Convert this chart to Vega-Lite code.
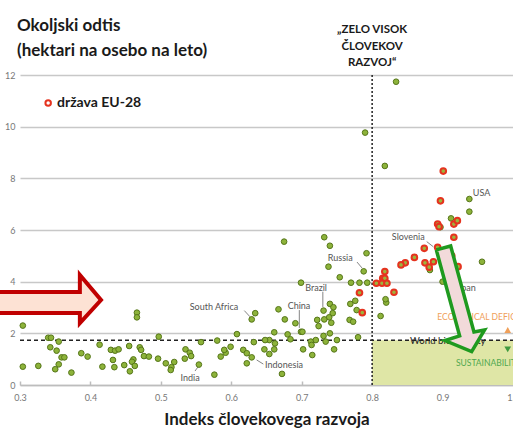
{
  "$schema": "https://vega.github.io/schema/vega-lite/v6.json",
  "width": 493,
  "height": 310,
  "autosize": {"type": "none"},
  "padding": {"left": 20, "top": 75, "right": 0, "bottom": 55},
  "background": "white",
  "config": {"font": "Lato", "view": {"stroke": null}},
  "title": {
    "text": ["Okoljski odtis", "(hektari na osebo na leto)"],
    "anchor": "start",
    "frame": "group",
    "dx": -3,
    "offset": -36,
    "fontSize": 17,
    "fontWeight": "bold",
    "font": "Lato",
    "color": "#1a1a1a",
    "lineHeight": 25
  },
  "datasets": {
    "zone": [{"x": 0.8, "x2": 1.0, "y": 0, "y2": 1.73}],
    "hline": [{"x": 0.3, "x2": 1.0, "y": 1.73}],
    "vline": [{"x": 0.8, "y": 0, "y2": 12}],
    "other": [
      {"x":0.304,"y":2.30},{"x":0.304,"y":0.71},{"x":0.326,"y":0.74},{"x":0.340,"y":1.83},{"x":0.344,"y":1.83},
      {"x":0.355,"y":1.68},{"x":0.343,"y":1.46},{"x":0.352,"y":1.33},{"x":0.359,"y":1.07},{"x":0.363,"y":1.07},
      {"x":0.355,"y":0.80},{"x":0.350,"y":0.61},{"x":0.373,"y":0.48},{"x":0.387,"y":1.23},{"x":0.396,"y":1.10},
      {"x":0.413,"y":1.56},{"x":0.417,"y":0.71},{"x":0.429,"y":1.36},{"x":0.435,"y":1.33},{"x":0.440,"y":1.38},
      {"x":0.432,"y":0.97},{"x":0.434,"y":0.69},{"x":0.448,"y":0.77},{"x":0.455,"y":1.51},{"x":0.461,"y":0.99},
      {"x":0.459,"y":0.90},{"x":0.456,"y":0.53},{"x":0.463,"y":0.74},{"x":0.466,"y":2.80},{"x":0.466,"y":2.62},
      {"x":0.470,"y":1.46},{"x":0.472,"y":1.36},{"x":0.476,"y":1.12},{"x":0.483,"y":1.10},{"x":0.497,"y":1.87},
      {"x":0.496,"y":1.02},{"x":0.507,"y":0.84},{"x":0.515,"y":0.69},{"x":0.519,"y":0.89},{"x":0.514,"y":0.58},
      {"x":0.535,"y":1.38},{"x":0.541,"y":1.25},{"x":0.543,"y":1.12},{"x":0.534,"y":1.02},{"x":0.554,"y":0.79},
      {"x":0.557,"y":1.66},{"x":0.576,"y":0.40},{"x":0.580,"y":1.72},{"x":0.585,"y":1.10},{"x":0.592,"y":1.25},
      {"x":0.590,"y":1.36},{"x":0.599,"y":1.48},{"x":0.608,"y":1.97},{"x":0.617,"y":1.36},{"x":0.622,"y":1.23},
      {"x":0.622,"y":0.84},{"x":0.629,"y":1.07},{"x":0.632,"y":1.66},{"x":0.629,"y":2.54},{"x":0.634,"y":2.78},
      {"x":0.654,"y":1.74},{"x":0.661,"y":2.04},{"x":0.667,"y":2.93},{"x":0.672,"y":0.43},{"x":0.648,"y":1.74},
      {"x":0.647,"y":1.38},{"x":0.654,"y":1.20},{"x":0.662,"y":1.61},{"x":0.661,"y":1.38},{"x":0.676,"y":2.54},
      {"x":0.680,"y":1.96},{"x":0.684,"y":1.77},{"x":0.691,"y":2.39},{"x":0.699,"y":2.06},{"x":0.701,"y":2.06},
      {"x":0.702,"y":1.38},{"x":0.715,"y":1.16},{"x":0.713,"y":1.68},{"x":0.720,"y":1.74},{"x":0.714,"y":1.55},
      {"x":0.722,"y":2.52},{"x":0.724,"y":2.28},{"x":0.731,"y":2.88},{"x":0.740,"y":3.14},{"x":0.745,"y":3.01},
      {"x":0.744,"y":2.78},{"x":0.739,"y":2.62},{"x":0.732,"y":2.54},{"x":0.742,"y":2.41},{"x":0.731,"y":1.90},
      {"x":0.740,"y":2.00},{"x":0.734,"y":1.68},{"x":0.750,"y":1.74},{"x":0.746,"y":1.38},{"x":0.769,"y":3.14},
      {"x":0.776,"y":3.26},{"x":0.768,"y":2.52},{"x":0.773,"y":2.45},{"x":0.780,"y":1.85},{"x":0.778,"y":2.90},
      {"x":0.699,"y":3.96},{"x":0.770,"y":3.96},{"x":0.782,"y":3.96},{"x":0.793,"y":3.96},{"x":0.675,"y":5.55},
      {"x":0.732,"y":5.72},{"x":0.740,"y":5.39},{"x":0.792,"y":5.10},{"x":0.738,"y":4.58},{"x":0.788,"y":4.40},
      {"x":0.754,"y":4.17},{"x":0.790,"y":9.77},{"x":0.818,"y":8.48},{"x":0.834,"y":11.74},{"x":0.820,"y":3.19},
      {"x":0.819,"y":3.32},{"x":0.812,"y":2.67},{"x":0.900,"y":4.00},{"x":0.938,"y":7.20},{"x":0.938,"y":6.71},
      {"x":0.912,"y":6.45},{"x":0.897,"y":6.11},{"x":0.956,"y":4.77},{"x":0.882,"y":4.45}
    ],
    "eu": [
      {"x":0.901,"y":8.28},{"x":0.897,"y":7.13},{"x":0.893,"y":6.23},{"x":0.895,"y":6.13},{"x":0.916,"y":6.23},
      {"x":0.921,"y":6.36},{"x":0.916,"y":5.72},{"x":0.874,"y":5.29},{"x":0.860,"y":4.94},{"x":0.847,"y":4.73},
      {"x":0.841,"y":4.65},{"x":0.875,"y":4.73},{"x":0.881,"y":4.56},{"x":0.887,"y":4.77},{"x":0.893,"y":5.33},
      {"x":0.922,"y":4.58},{"x":0.818,"y":4.39},{"x":0.815,"y":4.13},{"x":0.818,"y":4.13},{"x":0.806,"y":3.94},
      {"x":0.814,"y":3.94},{"x":0.821,"y":3.94},{"x":0.831,"y":3.59},{"x":0.782,"y":3.57},{"x":0.786,"y":2.80},
      {"x":0.913,"y":5.00}
    ],
    "labels": [
      {"x":0.737,"y":4.93,"t":"Russia"},{"x":0.705,"y":3.77,"t":"Brazil"},{"x":0.680,"y":3.07,"t":"China"},
      {"x":0.541,"y":3.01,"t":"South Africa"},{"x":0.528,"y":0.28,"t":"India"},{"x":0.648,"y":0.77,"t":"Indonesia"},
      {"x":0.828,"y":5.72,"t":"Slovenia"},{"x":0.943,"y":7.42,"t":"USA"},{"x":0.915,"y":3.74,"t":"Japan"}
    ],
    "leaders": [
      {"x":0.7785,"y":4.76,"x2":0.7856,"y2":4.53},{"x":0.730,"y":3.61,"x2":0.730,"y2":3.02},
      {"x":0.6966,"y":2.90,"x2":0.6966,"y2":2.21},{"x":0.6185,"y":2.88,"x2":0.6266,"y2":2.64},
      {"x":0.5485,"y":0.54,"x2":0.5527,"y2":0.70},{"x":0.636,"y":0.97,"x2":0.6455,"y2":0.81},
      {"x":0.8775,"y":5.55,"x2":0.8869,"y2":5.35}
    ],
    "redarrow": [
      {"x":0.262,"y":3.60,"o":1},{"x":0.385,"y":3.60,"o":2},{"x":0.385,"y":4.26,"o":3},{"x":0.415,"y":3.29,"o":4},
      {"x":0.385,"y":2.40,"o":5},{"x":0.385,"y":2.79,"o":6},{"x":0.262,"y":2.79,"o":7}
    ],
    "greenarrow": [
      {"x":0.8911,"y":5.23,"o":1},{"x":0.9115,"y":5.38,"o":2},{"x":0.9446,"y":2.05,"o":3},{"x":0.9596,"y":2.13,"o":4},
      {"x":0.9413,"y":1.29,"o":5},{"x":0.9034,"y":1.72,"o":6},{"x":0.9242,"y":1.90,"o":7},{"x":0.8911,"y":5.23,"o":8}
    ]
  },
  "encoding": {
    "x": {
      "field": "x", "type": "quantitative",
      "scale": {"domain": [0.3, 1.0], "nice": false, "zero": false},
      "axis": {
        "title": "Indeks človekovega razvoja",
        "values": [0.3, 0.4, 0.5, 0.6, 0.7, 0.8, 0.9, 1.0],
        "format": ".1f", "grid": false, "labelFlush": false,
        "domainColor": "#bdbdbd", "domainWidth": 1.5,
        "tickColor": "#bdbdbd", "tickWidth": 1.5, "tickSize": -4,
        "labelPadding": 12, "labelFontSize": 9, "labelColor": "#777",
        "titleFontSize": 17, "titleFontWeight": "bold", "titleColor": "#1a1a1a", "titlePadding": 9
      }
    },
    "y": {
      "field": "y", "type": "quantitative",
      "scale": {"domain": [0, 12], "nice": false},
      "axis": {
        "title": null, "values": [0, 2, 4, 6, 8, 10, 12],
        "domain": false, "ticks": false, "grid": true, "labelFlush": false,
        "gridColor": "#c8c8c8", "gridWidth": 1.5,
        "labelPadding": 5, "labelFontSize": 9, "labelColor": "#777"
      }
    }
  },
  "layer": [
    {
      "data": {"name": "zone"},
      "mark": {"type": "rect", "color": "#dfe6a6"},
      "encoding": {"x2": {"field": "x2"}, "y2": {"field": "y2"}}
    },
    {
      "data": {"name": "hline"},
      "mark": {"type": "rule", "color": "#222", "strokeWidth": 1.5, "strokeDash": [4, 3]},
      "encoding": {"x2": {"field": "x2"}}
    },
    {
      "data": {"name": "vline"},
      "mark": {"type": "rule", "color": "#222", "strokeWidth": 1.5, "strokeDash": [2, 2]},
      "encoding": {"y2": {"field": "y2"}}
    },
    {
      "data": {"name": "leaders"},
      "mark": {"type": "rule", "color": "#666", "strokeWidth": 0.8},
      "encoding": {"x2": {"field": "x2"}, "y2": {"field": "y2"}}
    },
    {
      "data": {"name": "other"},
      "mark": {"type": "circle", "size": 32, "fill": "#8db33a", "stroke": "#56761a", "strokeWidth": 1, "opacity": 1}
    },
    {
      "data": {"name": "eu"},
      "mark": {"type": "circle", "size": 32, "fill": "#9db43c", "stroke": "#e5331f", "strokeWidth": 2, "opacity": 1}
    },
    {
      "data": {"name": "labels"},
      "mark": {"type": "text", "align": "left", "baseline": "middle", "fontSize": 9, "color": "#555"},
      "encoding": {"text": {"field": "t"}}
    },
    {
      "data": {"values": [{"x": 0.8537, "y": 1.70, "t": "World biocapacity"}]},
      "mark": {"type": "text", "align": "left", "baseline": "middle", "fontSize": 9.5, "color": "#222"},
      "encoding": {"text": {"field": "t"}}
    },
    {
      "data": {"values": [{"x": 0.8925, "y": 2.62, "t": "ECOLOGICAL DEFICIT"}]},
      "mark": {"type": "text", "align": "left", "baseline": "middle", "fontSize": 8.5, "color": "#f0a05a"},
      "encoding": {"text": {"field": "t"}}
    },
    {
      "data": {"values": [{"x": 0.919, "y": 0.84, "t": "SUSTAINABILITY"}]},
      "mark": {"type": "text", "align": "left", "baseline": "middle", "fontSize": 8.5, "color": "#4fa84f"},
      "encoding": {"text": {"field": "t"}}
    },
    {
      "data": {"values": [{"x": 0.9925, "y": 2.13}]},
      "mark": {"type": "point", "shape": "triangle-up", "filled": true, "size": 45, "color": "#f0a05a", "opacity": 1}
    },
    {
      "data": {"values": [{"x": 0.9925, "y": 1.38}]},
      "mark": {"type": "point", "shape": "triangle-down", "filled": true, "size": 45, "color": "#3f9a3f", "opacity": 1}
    },
    {
      "data": {"name": "redarrow"},
      "mark": {"type": "line", "fill": "#fde2d4", "stroke": "#c00000", "strokeWidth": 4, "strokeJoin": "miter"},
      "encoding": {"order": {"field": "o", "type": "quantitative"}}
    },
    {
      "data": {"name": "greenarrow"},
      "mark": {"type": "line", "fill": "#f2dada", "stroke": "#1f9a1f", "strokeWidth": 3.5, "strokeJoin": "miter"},
      "encoding": {"order": {"field": "o", "type": "quantitative"}}
    },
    {
      "data": {"values": [{"x": 0.8, "y": 13.74, "t": ["„ZELO VISOK", "ČLOVEKOV", "RAZVOJ“"]}]},
      "mark": {"type": "text", "align": "center", "baseline": "middle", "fontSize": 11.5, "fontWeight": "bold", "lineHeight": 16.7, "color": "#1a1a1a"},
      "encoding": {"text": {"field": "t"}}
    },
    {
      "data": {"values": [{"x": 0.340, "y": 10.92}]},
      "mark": {"type": "point", "shape": "circle", "filled": false, "size": 30, "stroke": "#e5331f", "strokeWidth": 2, "fill": "white", "opacity": 1}
    },
    {
      "data": {"values": [{"x": 0.3525, "y": 10.92, "t": "država EU-28"}]},
      "mark": {"type": "text", "align": "left", "baseline": "middle", "fontSize": 14, "fontWeight": "bold", "color": "#1a1a1a"},
      "encoding": {"text": {"field": "t"}}
    }
  ]
}
